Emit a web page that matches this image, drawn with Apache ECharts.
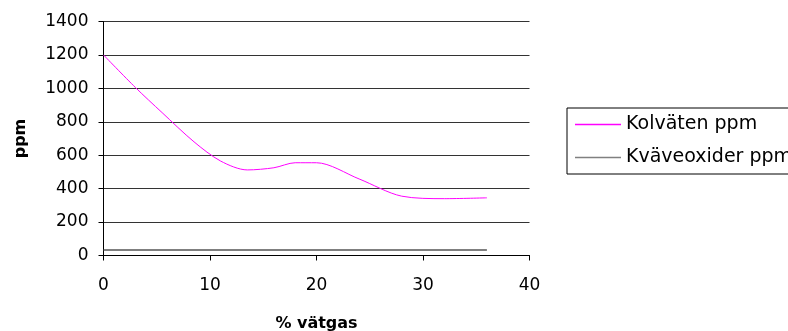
<!DOCTYPE html>
<html>
<head>
<meta charset="utf-8">
<script src="https://cdn.jsdelivr.net/npm/echarts@6/dist/echarts.min.js"></script>
<style>
    html, body { margin: 0; padding: 0; background: #fff; }
    #chart { width: 788px; height: 331px; }
</style>
</head>
<body>
<div id="chart"></div>
<script>
// data
const kolvatenX = [0, 3, 5.5, 8.5, 11, 13.5, 16, 18, 20, 24, 28, 32, 36]
const kolvatenY = [1200, 1005, 855, 680, 565, 512, 525, 555, 555, 458, 355, 340, 345]
const kvaveX = [0, 3, 5.5, 8.5, 11, 13.5, 16, 20, 24, 28, 32, 36]
const kvaveY = [33, 33, 33, 33, 33, 33, 33, 33, 33, 33, 33, 33]
const seriesNames = ['Kolväten ppm', 'Kväveoxider ppm']

const font = 'DejaVu Sans'

const chart = echarts.init(document.getElementById('chart'), null, {renderer: 'canvas'})

const option = {
    animation: false,
    grid: {
        left: 103.5,
        top: 21.5,
        right: 258.5,
        bottom: 75.5,
        outerBoundsMode: 'none',
        containLabel: false
    },
    legend: {
        orient: 'vertical',
        left: 567,
        top: 108,
        data: [
            {name: seriesNames[0], itemStyle: {color: '#FF00FF'}},
            {name: seriesNames[1], itemStyle: {color: '#808080'}}
        ],
        icon: 'rect',
        itemWidth: 46,
        itemHeight: 1.5,
        itemGap: 12,
        padding: [6, 10, 6, 8],
        borderColor: '#000',
        borderWidth: 1,
        textStyle: {
            fontFamily: font,
            fontSize: 19,
            lineHeight: 21,
            color: '#000'
        }
    },
    xAxis: {
        type: 'value',
        min: 0,
        max: 40,
        interval: 10,
        name: '% vätgas',
        nameLocation: 'middle',
        nameGap: 60,
        nameTextStyle: {
            fontFamily: font,
            fontSize: 16,
            fontWeight: 'bold',
            color: '#000'
        },
        axisLine: {lineStyle: {color: '#000', width: 1}},
        axisTick: {show: true, length: 5, lineStyle: {color: '#000'}},
        axisLabel: {
            fontFamily: font,
            fontSize: 17,
            color: '#000',
            margin: 22
        },
        splitLine: {show: false}
    },
    yAxis: {
        type: 'value',
        min: 0,
        max: 1400,
        interval: 200,
        name: 'ppm',
        nameLocation: 'middle',
        nameGap: 75,
        nameRotate: 90,
        nameTextStyle: {
            fontFamily: font,
            fontSize: 16,
            fontWeight: 'bold',
            color: '#000'
        },
        axisLine: {show: true, lineStyle: {color: '#000', width: 1}},
        axisTick: {show: true, length: 5, lineStyle: {color: '#000'}},
        axisLabel: {
            fontFamily: font,
            fontSize: 17,
            color: '#000',
            margin: 15,
            formatter: v => String(v)
        },
        splitLine: {show: true, lineStyle: {color: '#333', width: 1}}
    },
    series: [
        {
            name: seriesNames[0],
            type: 'line',
            symbol: 'none',
            smooth: 0.3,
            lineStyle: {color: '#FF00FF', width: 1},
            itemStyle: {color: '#FF00FF'},
            data: kolvatenX.map((x, i) => [x, kolvatenY[i]])
        },
        {
            name: seriesNames[1],
            type: 'line',
            symbol: 'none',
            lineStyle: {color: '#555', width: 1.5},
            itemStyle: {color: '#808080'},
            data: kvaveX.map((x, i) => [x, kvaveY[i]])
        }
    ]
}

chart.setOption(option)
</script>
</body>
</html>
